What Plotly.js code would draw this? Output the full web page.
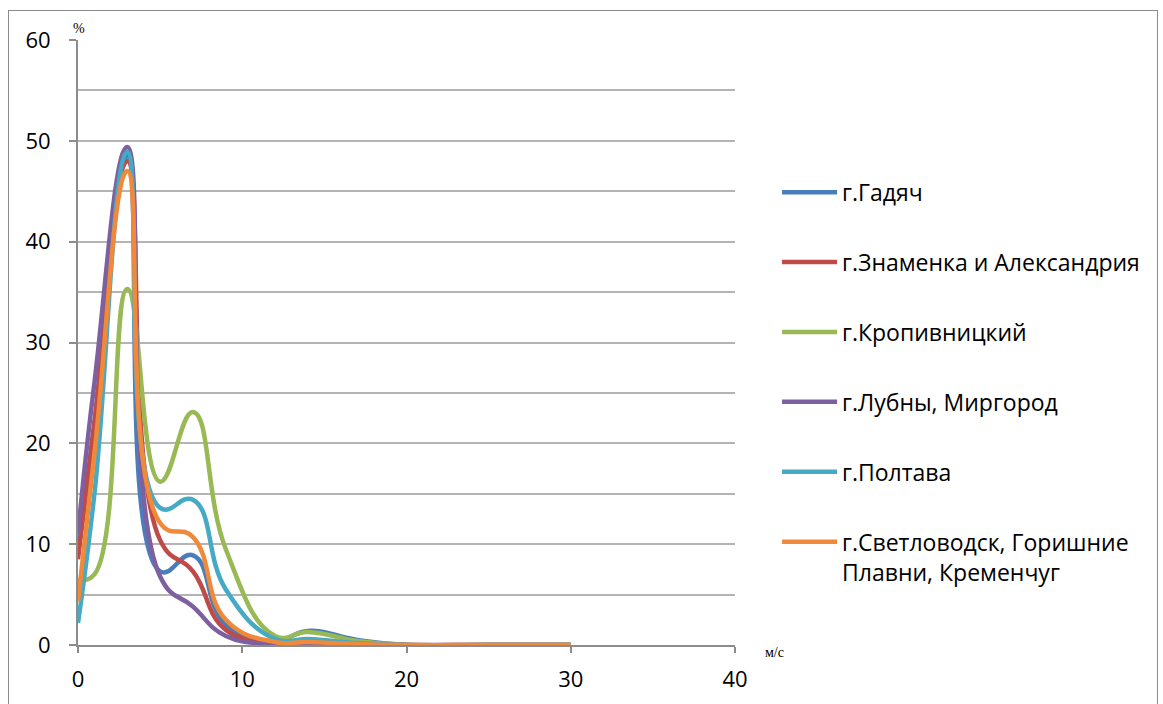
<!DOCTYPE html>
<html>
<head>
<meta charset="utf-8">
<script src="https://cdn.plot.ly/plotly-3.0.1.min.js"></script>
<style>
  html, body { margin: 0; padding: 0; background: #fff; overflow: hidden; }
  #frame { position: absolute; left: 8px; top: 10px; width: 1150px; height: 720px; border: 1px solid #8c8c8c; box-sizing: border-box; pointer-events: none; }
  #chart { position: absolute; left: 0; top: 0; width: 1163px; height: 704px; }
</style>
</head>
<body>
<div id="chart"></div>
<div id="frame"></div>
<script>
// Wind speed, m/s
const windSpeed = [0, 1, 3, 5, 7, 9, 12, 14, 17, 20, 25, 30];

const seriesNames = [
  "г.Гадяч",
  "г.Знаменка и Александрия",
  "г.Кропивницкий",
  "г.Лубны, Миргород",
  "г.Полтава",
  "г.Светловодск, Горишние<br>Плавни, Кременчуг"
];

// Frequency, %
const gadyach      = [9.0, 22.0, 48.5, 7.3, 8.9, 2.0, 0.4, 1.4, 0.5, 0, 0, 0];
const znamenka     = [8.5, 22.0, 48.0, 10.4, 7.3, 1.5, 0.3, 0.2, 0.1, 0, 0, 0];
const kropyvnytskyi= [6.5, 7.0, 35.3, 16.2, 23.1, 9.5, 0.9, 1.3, 0.4, 0, 0, 0];
const lubny        = [11.0, 26.0, 49.4, 6.8, 3.8, 0.9, 0.1, 0.1, 0, 0, 0, 0];
const poltava      = [2.2, 15.0, 48.9, 13.6, 14.4, 5.5, 0.6, 0.6, 0.2, 0, 0, 0];
const svitlovodsk  = [4.3, 19.0, 47.0, 12.1, 10.7, 2.5, 0.3, 0.3, 0.1, 0, 0, 0];

const seriesValues = [gadyach, znamenka, kropyvnytskyi, lubny, poltava, svitlovodsk];
const seriesColors = ["#4A7EBB", "#BE4B48", "#98B954", "#7D60A0", "#46AAC5", "#F08A3A"];

const traces = seriesValues.map((vals, i) => ({
  type: "scatter",
  mode: "lines",
  x: windSpeed,
  y: vals,
  name: seriesNames[i],
  legendgroup: "g" + i,
  line: { color: seriesColors[i], width: 4.5, shape: "spline", smoothing: 1.3 },
  hoverinfo: "x+y+name"
}));

const tickFont = { size: 22, family: "'Open Sans', Lato, sans-serif", color: "#000" };

const layout = {
  width: 1163,
  height: 704,
  paper_bgcolor: "#ffffff",
  plot_bgcolor: "#ffffff",
  margin: { l: 78, r: 428, t: 40, b: 59 },
  font: { family: "'Open Sans', Lato, sans-serif", color: "#000" },
  showlegend: true,
  legend: {
    x: 1.064, xanchor: "left",
    y: 0.784, yanchor: "top",
    font: { size: 23, family: "'Open Sans', Lato, sans-serif", color: "#000" },
    tracegroupgap: 37,
    itemwidth: 55,
    valign: "top",
    bgcolor: "rgba(0,0,0,0)"
  },
  xaxis: {
    range: [0, 40],
    tickmode: "array",
    tickvals: [0, 10, 20, 30, 40],
    ticktext: ["0", "10", "20", "30", "40"],
    ticks: "outside",
    ticklen: 6,
    tickwidth: 2,
    tickcolor: "#8c8c8c",
    showline: true,
    linecolor: "#8c8c8c",
    linewidth: 2,
    showgrid: false,
    zeroline: false,
    tickfont: tickFont,
    ticklabelstandoff: 8
  },
  yaxis: {
    range: [0, 60],
    tickmode: "array",
    tickvals: [0, 10, 20, 30, 40, 50, 60],
    ticktext: ["0", "10", "20", "30", "40", "50", "60"],
    ticks: "outside",
    ticklen: 7,
    tickwidth: 2,
    tickcolor: "#8c8c8c",
    showline: true,
    linecolor: "#8c8c8c",
    linewidth: 2,
    showgrid: true,
    gridcolor: "#b4b4b4",
    gridwidth: 2,
    zeroline: false,
    minor: { tickmode: "array", tickvals: [5, 15, 25, 35, 45, 55], showgrid: true, gridcolor: "#b4b4b4", gridwidth: 2, ticks: "" },
    tickfont: tickFont,
    ticklabelstandoff: 14
  },
  annotations: [
    { text: "%", xref: "paper", yref: "paper", x: -0.01, y: 1.0, xanchor: "left", yanchor: "bottom", yshift: 2, showarrow: false,
      font: { family: "'Liberation Serif', 'DejaVu Serif', serif", size: 14, color: "#000" } },
    { text: "м/с", xref: "paper", yref: "paper", x: 1.0, y: 0, xanchor: "left", yanchor: "top", xshift: 28, yshift: 2, showarrow: false,
      font: { family: "'Liberation Serif', 'DejaVu Serif', serif", size: 14, color: "#000" } }
  ]
};

Plotly.newPlot("chart", traces, layout, { displayModeBar: false, staticPlot: true });
</script>
</body>
</html>
